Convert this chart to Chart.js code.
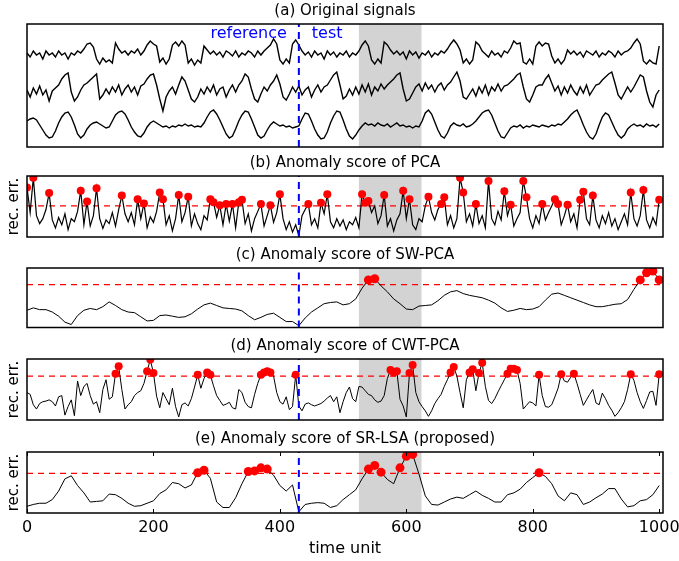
<!DOCTYPE html>
<html>
<head>
<meta charset="utf-8">
<script src="https://cdn.jsdelivr.net/npm/chart.js@4.4.1/dist/chart.umd.min.js"></script>
<style>
  html, body { margin: 0; padding: 0; background: #fff; }
  body { width: 679px; height: 561px; position: relative; overflow: hidden; }
  canvas { position: absolute; left: 0; }
</style>
</head>
<body>
<canvas id="panelA" width="679" height="148" style="top:2px"></canvas>
<canvas id="panelB" width="679" height="87" style="top:154px"></canvas>
<canvas id="panelC" width="679" height="86" style="top:246px"></canvas>
<canvas id="panelD" width="679" height="87" style="top:337px"></canvas>
<canvas id="panelE" width="679" height="131" style="top:430px"></canvas>
<script>
// time grid (every 5 units for the noisy series, every 10 for the smooth ones)
const T5 = Array.from({ length: 201 }, (_, i) => i * 5);
const T10 = Array.from({ length: 101 }, (_, i) => i * 10);

const X_MAX = 1006;
const SPLIT_T = 430;          // reference | test boundary
const SHADE_T = [525, 624];   // anomalous interval
const X_TICKS = [0, 200, 400, 600, 800, 1000];

// (a) original signals, already stacked for display
const signalTop = [
  94, 90, 96, 92, 94, 88, 96, 92, 94, 90,
  96, 92, 94, 88, 94, 92, 96, 94, 98, 103,
  104, 100, 88, 83, 89, 85, 87, 84, 104, 98,
  94, 96, 92, 96, 94, 98, 92, 96, 102, 106,
  103, 101, 85, 89, 83, 88, 102, 105, 101, 106,
  102, 84, 88, 82, 87, 84, 101, 97, 93, 96,
  92, 95, 90, 96, 94, 91, 96, 90, 94, 92,
  96, 94, 90, 96, 92, 96, 99, 102, 108, 103,
  87, 83, 88, 84, 103, 107, 102, 96, 92, 95,
  90, 96, 92, 94, 88, 96, 92, 95, 90, 94,
  92, 96, 90, 94, 92, 96, 102, 106, 101, 87,
  83, 88, 84, 105, 102, 97, 93, 96, 92, 95,
  88, 96, 92, 95, 89, 94, 92, 96, 90, 94,
  92, 96, 94, 98, 103, 107, 103, 97, 84, 88,
  83, 87, 105, 102, 96, 93, 90, 96, 92, 94,
  90, 96, 94, 99, 106, 103, 104, 85, 83, 88,
  83, 101, 105, 101, 104, 103, 91, 84, 88, 83,
  87, 97, 93, 96, 92, 95, 90, 96, 94, 92,
  96, 90, 94, 92, 96, 94, 90, 96, 92, 95,
  96, 99, 104, 108, 103, 86, 83, 87, 84, 83,
  101
];
const signalMid = [
  57, 50, 59, 53, 61, 52, 57, 46, 56, 59,
  62, 68, 72, 74, 55, 46, 50, 57, 62, 64,
  67, 70, 73, 48, 52, 58, 53, 60, 55, 62,
  52, 58, 62, 55, 60, 52, 61, 63, 68, 72,
  73, 62, 48, 36, 50, 56, 60, 53, 62, 70,
  66, 57, 48, 45, 50, 58, 53, 60, 55, 62,
  52, 58, 60, 50, 57, 62, 55, 62, 66, 73,
  70, 58, 48, 45, 53, 60, 56, 62, 66, 72,
  63, 50, 47, 53, 60, 55, 61, 52, 57, 60,
  50, 57, 62, 55, 60, 62, 67, 72, 75, 62,
  48, 51, 58, 52, 60, 53, 62, 55, 63, 52,
  60, 56, 63, 58, 62, 65, 68, 72, 74, 58,
  46, 48, 54, 60, 63, 56, 64, 58, 62, 55,
  61, 64, 57, 62, 65, 70, 75, 66, 50, 48,
  53, 58, 51, 60, 54, 62, 52, 60, 56, 63,
  56, 61, 62, 65, 68, 72, 74, 60, 48, 45,
  52, 60, 62, 62, 68, 72, 64, 56, 61, 52,
  60, 54, 62, 56, 52, 60, 54, 62, 52, 57,
  62, 63, 67, 70, 73, 75, 64, 52, 48, 54,
  60, 55, 60, 66, 72, 70, 56, 45, 40, 52,
  57
];
const signalLow = [
  26, 28, 29, 27, 22, 17, 12, 9, 10, 16,
  24, 30, 34, 35, 30, 22, 13, 9, 12, 18,
  22, 24, 25, 23, 21, 19, 20, 26, 32, 35,
  36, 33, 27, 20, 15, 11, 10, 14, 20, 24,
  26, 24, 22, 20, 21, 19, 21, 20, 22, 21,
  23, 21, 22, 20, 21, 20, 24, 30, 35, 37,
  33, 27, 20, 13, 9, 11, 18, 26, 32, 36,
  35, 28, 20, 12, 9, 11, 17, 22, 25, 23,
  21, 22, 20, 21, 19, 20, 21, 28, 34, 33,
  26, 18, 12, 8, 9, 15, 24, 31, 36, 35,
  27, 18, 11, 8, 12, 17, 21, 24, 22, 23,
  21, 24, 22, 21, 23, 20, 22, 24, 21, 22,
  20, 21, 19, 21, 20, 26, 34, 37, 33, 25,
  17, 11, 9, 14, 21, 24, 22, 21, 23, 20,
  21, 23, 26, 30, 34, 36, 37, 32, 24, 16,
  10, 9, 14, 19, 21, 20, 22, 19, 21, 20,
  22, 21, 20, 22, 21, 20, 22, 21, 23, 22,
  25, 28, 32, 35, 37, 30, 22, 15, 10, 8,
  13, 22, 30, 34, 32, 25, 18, 12, 9, 12,
  18, 21, 23, 21, 22, 20, 23, 21, 22, 20,
  23
];

// (b) PCA reconstruction error
const scorePCA = [
  81, 40, 97, 35, 22, 30, 45, 72, 28, 15,
  32, 20, 38, 12, 30, 25, 42, 76, 20, 58,
  18, 35, 80, 30, 14, 28, 22, 40, 18, 45,
  68, 38, 25, 40, 20, 62, 30, 55, 15, 33,
  24, 42, 73, 62, 20, 35, 10, 30, 69, 25,
  40, 66, 18, 38, 22, 12, 35, 28, 62, 57,
  32, 52, 20, 54, 26, 54, 15, 57, 61, 22,
  38, 10, 30, 42, 54, 18, 35, 52, 24, 40,
  70, 30, 12, 25, 8, 20, 2, 35, 45, 54,
  20, 30, 15, 56, 38, 70, 25, 15, 30, 18,
  28, 12, 25, 20, 32, 15, 70, 56, 59, 40,
  51, 22, 35, 69, 18, 30, 10, 28, 38, 76,
  30, 62, 20, 12, 30, 25, 51, 66, 40, 28,
  45, 54, 65, 20, 35, 15, 30, 97, 73, 25,
  38, 18, 54, 22, 35, 15, 92, 30, 20, 42,
  28, 75, 35, 53, 18, 30, 40, 92, 65, 30,
  15, 35, 22, 54, 28, 40, 51, 62, 54, 20,
  35, 53, 25, 38, 15, 61, 74, 30, 20, 68,
  28, 15, 35, 22, 40, 18, 30, 12, 25, 38,
  20, 73, 30, 18, 35, 77, 28, 15, 32, 20,
  61
];

// (c) sliding-window PCA
const scoreSW = [
  29, 33, 30, 30, 26, 19, 9, 5, 20, 29,
  32, 30, 35, 43, 37, 30, 26, 25, 18, 11,
  12, 20, 21, 19, 17, 18, 23, 31, 38, 41,
  37, 33, 32, 31, 28, 20, 13, 17, 22, 24,
  17, 10, 10, 3, 16, 26, 33, 40, 42, 43,
  38, 40, 48, 66, 80, 82, 70, 60, 48, 40,
  31, 30, 36, 37, 38, 45, 54, 60, 62, 57,
  54, 52, 50, 46, 41, 33, 27, 29, 32, 30,
  31, 35, 46, 56, 58, 54, 50, 46, 42, 38,
  35, 35, 37, 39, 40, 47, 64, 80, 92, 95,
  80
];

// (d) CWT-PCA
const scoreCWT = [
  45, 42, 25, 18, 27, 30, 31, 33, 30, 23,
  38, 40, 8, 22, 33, 7, 64, 40, 55, 60,
  40, 26, 30, 12, 50, 66, 34, 38, 76, 88,
  50, 18, 25, 30, 40, 45, 48, 60, 80, 99,
  77, 39, 20, 45, 35, 25, 52, 22, 5, 25,
  28, 23, 35, 54, 74, 52, 68, 78, 74, 56,
  40, 32, 24, 26, 29, 20, 18, 50, 45, 29,
  22, 20, 42, 60, 74, 78, 80, 78, 72, 45,
  30, 26, 38, 17, 22, 74, 23, 15, 26, 28,
  25, 23, 25, 27, 31, 36, 40, 30, 38, 12,
  30, 45, 54, 35, 30, 55, 54, 48, 42, 40,
  33, 29, 31, 40, 68, 82, 78, 80, 34, 23,
  5, 77, 90, 45, 30, 22, 15, 6, 15, 27,
  35, 42, 55, 66, 78, 87, 72, 45, 20, 66,
  78, 83, 48, 77, 94, 55, 32, 27, 35, 46,
  56, 66, 76, 84, 84, 82, 60, 18, 24, 30,
  28, 23, 74, 40, 22, 21, 25, 38, 52, 75,
  64, 62, 70, 76, 60, 42, 24, 33, 42, 50,
  28, 25, 44, 35, 24, 16, 6, 12, 20, 30,
  50, 75, 65, 45, 30, 19, 32, 46, 47, 24,
  75
];

// (e) SR-LSA (proposed)
const scoreSR = [
  11, 14, 16, 16, 22, 36, 56, 61, 45, 33,
  18, 19, 20, 31, 30, 24, 16, 11, 12, 16,
  20, 32, 38, 50, 48, 41, 46, 66, 70, 57,
  18, 9, 9, 25, 48, 68, 69, 74, 72, 62,
  45, 36, 46, 2, 14, 16, 17, 16, 9, 12,
  22, 30, 38, 56, 72, 78, 67, 55, 48, 74,
  93, 96, 64, 28, 14, 13, 18, 23, 26, 24,
  30, 36, 29, 24, 18, 18, 30, 33, 39, 50,
  58, 66, 60, 48, 28, 20, 33, 30, 14, 18,
  25, 31, 40, 40, 23, 10, 12, 20, 22, 30,
  45
];

const thrPCA = 51;
const thrSW = 72;
const thrCWT = 72;
const thrSR = 65;

const FONT = '"DejaVu Sans", sans-serif';

const toPoints = (ts, vs) => vs.map((v, i) => ({ x: ts[i], y: v }));

// shading, frame, inward ticks and the reference/test captions
const panelDecor = {
  id: 'panelDecor',
  beforeDatasetsDraw(chart) {
    const { ctx, chartArea: a, scales: { x } } = chart;
    const x0 = x.getPixelForValue(SHADE_T[0]);
    const x1 = x.getPixelForValue(SHADE_T[1]);
    ctx.save();
    ctx.fillStyle = '#d3d3d3';
    ctx.fillRect(x0, a.top, x1 - x0, a.bottom - a.top);
    ctx.restore();
  },
  afterDraw(chart, args, opts) {
    const { ctx, chartArea: a, scales: { x } } = chart;
    ctx.save();
    ctx.strokeStyle = '#000';
    ctx.lineWidth = 1.5;
    ctx.strokeRect(a.left, a.top, a.right - a.left, a.bottom - a.top);

    if (opts.ticks) {
      ctx.lineWidth = 1;
      x.ticks.forEach(t => {
        const px = Math.round(x.getPixelForValue(t.value)) + 0.5;
        ctx.beginPath();
        ctx.moveTo(px, a.bottom);
        ctx.lineTo(px, a.bottom - 4);
        ctx.moveTo(px, a.top);
        ctx.lineTo(px, a.top + 4);
        ctx.stroke();
      });
    }

    if (opts.captions) {
      const px = x.getPixelForValue(SPLIT_T);
      ctx.fillStyle = '#0000ff';
      ctx.font = '16px ' + FONT;
      ctx.textBaseline = 'middle';
      ctx.textAlign = 'right';
      ctx.fillText('reference', px - 12, a.top + 9.5);
      ctx.textAlign = 'left';
      ctx.fillText('test', px + 13, a.top + 9.5);
    }
    ctx.restore();
  }
};

function makePanel(id, { title, series, yMax, threshold, dotRadius, yLabel, bottomAxis, captions }) {
  const datasets = [{
    data: [{ x: SPLIT_T, y: 0 }, { x: SPLIT_T, y: yMax }],
    borderColor: '#0000ff',
    borderWidth: 2,
    borderDash: [7, 5],
    pointRadius: 0,
    order: 0
  }];

  series.forEach(s => {
    datasets.push({
      data: toPoints(s.t, s.v),
      borderColor: '#000',
      borderWidth: s.width || 1,
      pointRadius: threshold == null ? 0 : (c => (c.raw && c.raw.y > threshold ? dotRadius : 0)),
      pointBackgroundColor: '#ff0000',
      pointBorderWidth: 0,
      order: 1
    });
  });

  if (threshold != null) {
    datasets.push({
      data: [{ x: 0, y: threshold }, { x: X_MAX, y: threshold }],
      borderColor: '#ff0000',
      borderWidth: 1.3,
      borderDash: [6, 5],
      pointRadius: 0,
      order: 2
    });
  }

  return new Chart(document.getElementById(id), {
    type: 'line',
    data: { datasets },
    options: {
      responsive: false,
      animation: false,
      events: [],
      clip: 0,
      elements: { line: { tension: 0 } },
      layout: { padding: { left: 0, right: 16, top: 0, bottom: bottomAxis ? 0 : 3 } },
      plugins: {
        legend: { display: false },
        tooltip: { enabled: false },
        title: {
          display: true,
          text: title,
          fullSize: false,
          color: '#000',
          font: { family: FONT, size: 15, weight: 'normal' },
          padding: { top: 0, bottom: 4 }
        },
        panelDecor: { ticks: !!bottomAxis, captions: !!captions }
      },
      scales: {
        x: {
          type: 'linear',
          min: 0,
          max: X_MAX,
          afterFit: s => { s.height = bottomAxis ? 48 : 0; s.paddingLeft = 0; s.paddingRight = 0; },
          afterBuildTicks: s => { s.ticks = X_TICKS.map(v => ({ value: v })); },
          grid: { display: false, drawTicks: false },
          border: { display: false },
          ticks: {
            display: !!bottomAxis,
            autoSkip: false,
            maxRotation: 0,
            color: '#000',
            font: { family: FONT, size: 16 },
            padding: 5,
            callback: v => String(v)
          },
          title: {
            display: !!bottomAxis,
            text: 'time unit',
            color: '#000',
            font: { family: FONT, size: 16 },
            padding: { top: 0, bottom: 3 }
          }
        },
        y: {
          min: 0,
          max: yMax,
          afterFit: s => { s.width = 27; },
          grid: { display: false, drawTicks: false },
          border: { display: false },
          ticks: { display: false },
          title: {
            display: !!yLabel,
            text: yLabel || '',
            color: '#000',
            font: { family: FONT, size: 15 },
            padding: { top: 5, bottom: 0 }
          }
        }
      }
    },
    plugins: [panelDecor]
  });
}

makePanel('panelA', {
  title: '(a) Original signals',
  series: [
    { t: T5, v: signalTop, width: 1.4 },
    { t: T5, v: signalMid, width: 1.4 },
    { t: T5, v: signalLow, width: 1.4 }
  ],
  yMax: 123,
  captions: true
});

makePanel('panelB', {
  title: '(b) Anomaly score of PCA',
  series: [{ t: T5, v: scorePCA, width: 1.2 }],
  yMax: 100,
  threshold: thrPCA,
  dotRadius: 4,
  yLabel: 'rec. err.'
});

makePanel('panelC', {
  title: '(c) Anomaly score of SW-PCA',
  series: [{ t: T10, v: scoreSW }],
  yMax: 100,
  threshold: thrSW,
  dotRadius: 4.5
});

makePanel('panelD', {
  title: '(d) Anomaly score of CWT-PCA',
  series: [{ t: T5, v: scoreCWT }],
  yMax: 100,
  threshold: thrCWT,
  dotRadius: 4,
  yLabel: 'rec. err.'
});

makePanel('panelE', {
  title: '(e) Anomaly score of SR-LSA (proposed)',
  series: [{ t: T10, v: scoreSR }],
  yMax: 100,
  threshold: thrSR,
  dotRadius: 4.5,
  yLabel: 'rec. err.',
  bottomAxis: true
});
</script>
</body>
</html>
